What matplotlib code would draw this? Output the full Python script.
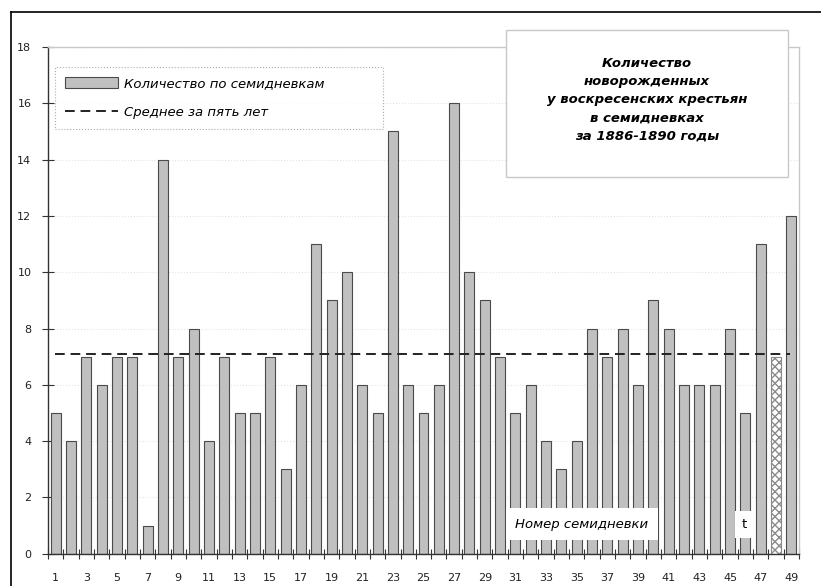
import matplotlib
matplotlib.use("Agg")
import matplotlib.pyplot as plt
from matplotlib.patches import Rectangle, Patch
from matplotlib.lines import Line2D

weeks = list(range(1, 50))
births = [5, 4, 7, 6, 7, 7, 1, 14, 7, 8,
          4, 7, 5, 5, 7, 3, 6, 11, 9, 10,
          6, 5, 15, 6, 5, 6, 16, 10, 9, 7,
          5, 6, 4, 3, 4, 8, 7, 8, 6, 9,
          8, 6, 6, 6, 8, 5, 11, 7, 12]
incomplete_week = 48
mean_value = 7.1
yticks = list(range(0, 19, 2))
xticklabels = [str(w) for w in weeks if w % 2 == 1]

legend_bar = "Количество по семидневкам"
legend_mean = "Среднее за пять лет"
title_text = "Количество\nноворожденных\nу воскресенских крестьян\nв семидневках\nза 1886-1890 годы"
xlabel_text = "Номер семидневки"

plt.rcParams['font.family'] = ['DejaVu Sans']

fig = plt.figure(figsize=(8.21, 5.86), dpi=100)
ax = fig.add_axes([48/821, 1-553.7/586, 751/821, 506.7/586])

bar_face = '#c0c0c0'
bar_edge = '#4a4a4a'
for w, b in zip(weeks, births):
    if w == incomplete_week:
        ax.bar(w, b, width=0.65, facecolor='white', edgecolor='#8a8a8a',
               hatch='xxxx', linewidth=0.8, zorder=2)
    else:
        ax.bar(w, b, width=0.65, facecolor=bar_face, edgecolor=bar_edge,
               linewidth=0.8, zorder=2)

ax.hlines(mean_value, 0.95, 48.9, color='#222222', linewidth=1.4,
          linestyles=(0, (5, 3)), zorder=3)

ax.set_xlim(0.5, 49.5)
ax.set_ylim(0, 18)
ax.set_yticks(yticks)
ax.set_yticklabels([str(t) for t in yticks], fontsize=8, color='#222222')
ax.set_xticks([w for w in weeks if w % 2 == 1])
ax.set_xticklabels(xticklabels, fontsize=8, color='#222222')
ax.set_xticks([w + 0.5 for w in range(0, 50)], minor=True)
ax.tick_params(axis='x', which='major', length=0, pad=14)
ax.tick_params(axis='x', which='minor', direction='inout', length=7, width=0.8, color='#333333')
ax.tick_params(axis='y', direction='inout', length=8, width=0.8, color='#333333', pad=8)

ax.grid(axis='y', color='#e4e4e4', linestyle=':', linewidth=0.8, zorder=0)
ax.set_axisbelow(True)
for s in ['top', 'right']:
    ax.spines[s].set_color('#c8c8c8')
    ax.spines[s].set_linewidth(1.0)
for s in ['left', 'bottom']:
    ax.spines[s].set_color('#333333')
    ax.spines[s].set_linewidth(1.0)

# legend
handles = [Patch(facecolor=bar_face, edgecolor=bar_edge, linewidth=0.8),
           Line2D([0], [0], color='#222222', linewidth=1.4, dashes=(5, 3))]
leg = fig.legend(handles, [legend_bar, legend_mean], loc='upper left',
                 bbox_to_anchor=(55/821, 1-133/586, (383-55)/821, (133-67)/586),
                 mode='expand', borderaxespad=0, frameon=True,
                 fancybox=False, handlelength=4.0, handleheight=0.9,
                 handletextpad=0.5, labelspacing=1.2, borderpad=0.75,
                 prop={'style': 'italic', 'size': 9.5})
fr = leg.get_frame()
fr.set_linestyle(':')
fr.set_edgecolor('#999999')
fr.set_linewidth(0.8)

# title box
fig.patches.append(Rectangle((506/821, 1-177/586), (788-506)/821, (177-30)/586,
                             transform=fig.transFigure, facecolor='white',
                             edgecolor='#c8c8c8', linewidth=1.0, zorder=5))
fig.text(647/821, 1-100/586, title_text, ha='center', va='center', fontsize=9.5,
         fontweight='bold', style='italic', linespacing=1.52, zorder=6)

# x label boxes
ax.text(0.711, 0.0586, xlabel_text, transform=ax.transAxes, ha='center', va='center',
        fontsize=9.5, style='italic', zorder=6,
        bbox=dict(facecolor='white', edgecolor='none', pad=7))
ax.text(0.927, 0.0586, 't', transform=ax.transAxes, ha='center', va='center',
        fontsize=9.5, zorder=6,
        bbox=dict(facecolor='white', edgecolor='none', pad=5))

# outer frame lines
fig.add_artist(Line2D([11/821, 1], [1-12/586, 1-12/586], transform=fig.transFigure,
                      color='black', linewidth=1.2))
fig.add_artist(Line2D([11/821, 11/821], [0, 1-12/586], transform=fig.transFigure,
                      color='black', linewidth=1.2))

fig.savefig('out.png', dpi=100)
